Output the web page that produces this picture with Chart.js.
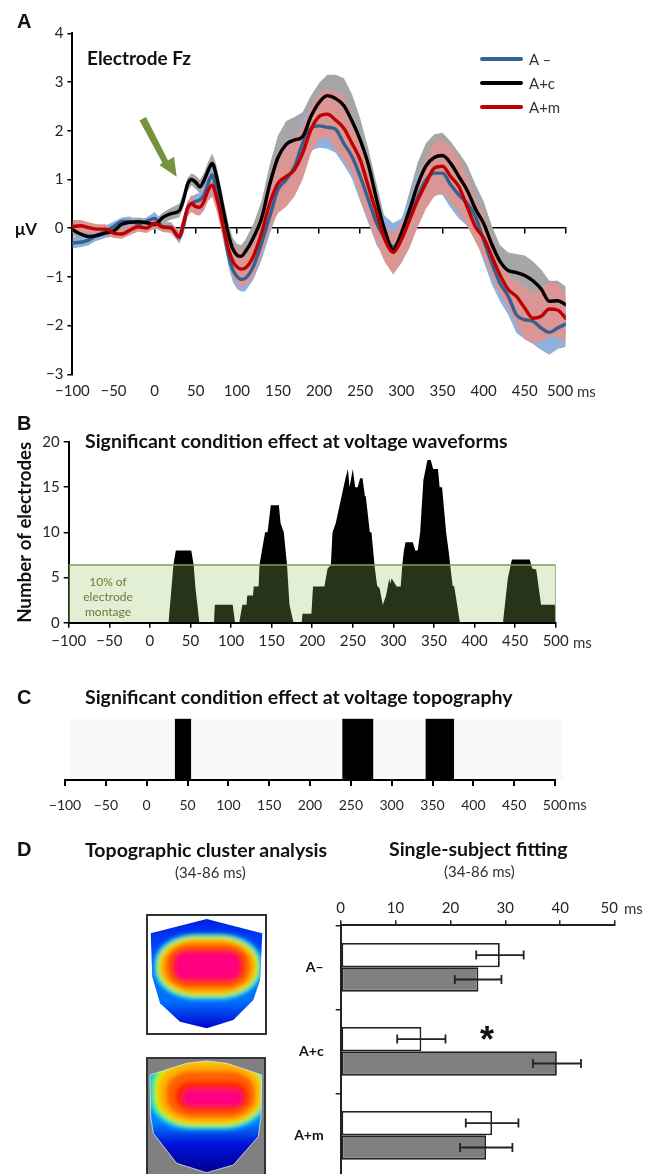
<!DOCTYPE html>
<html>
<head>
<meta charset="utf-8">
<title>Electrode Fz</title>
<script src="https://cdn.jsdelivr.net/npm/chart.js@4"></script>
<style>
  html, body { margin: 0; padding: 0; background: #fff; }
  body { position: relative; width: 656px; height: 1174px; overflow: hidden; font-family: Lato, sans-serif; color: #262626; }
  canvas { position: absolute; left: 0; }
  svg { position: absolute; left: 0; top: 0; }
  .t { position: absolute; white-space: nowrap; transform: translateY(-50%); line-height: 1; }
  .letter { font-family: "Liberation Sans", sans-serif; font-weight: 700; font-size: 20px; color: #111; }
  .title { font-weight: 700; font-size: 19.5px; color: #111; }
  .sub { font-size: 15px; color: #333; }
  .unit { font-size: 15px; color: #333; }
  .leg { font-size: 15px; color: #333; }
  .swatch { position: absolute; left: 480px; width: 43px; height: 4px; border-radius: 2px; }
  .montage { font-size: 12px; color: #6d7a35; width: 80px; text-align: center; }
</style>
</head>
<body>
<div style="position:absolute;left:69px;top:719px;width:494px;height:61px;background:#f9f9f9"></div>
<canvas id="chartA" width="656" height="400" style="top:0"></canvas>
<canvas id="chartB" width="656" height="235" style="top:425px"></canvas>
<canvas id="chartC" width="656" height="125" style="top:700px"></canvas>
<canvas id="chartD" width="656" height="290" style="top:890px"></canvas>
<svg id="overlay" width="656" height="1174" viewBox="0 0 656 1174"></svg>

<div class="t letter" style="left:17px;top:21px">A</div>
<div class="t title" style="left:87px;top:57px;font-size:19px">Electrode Fz</div>
<div class="swatch" style="top:57px;background:#376092"></div>
<div class="swatch" style="top:81px;background:#000"></div>
<div class="swatch" style="top:105px;background:#c00000"></div>
<div class="t leg" style="left:529px;top:59px">A –</div>
<div class="t leg" style="left:529px;top:83px">A+c</div>
<div class="t leg" style="left:529px;top:107px">A+m</div>
<div class="t" style="left:15px;top:228px;font-weight:700;font-size:17px;color:#111">μV</div>
<div class="t unit" style="left:577px;top:391px">ms</div>

<div class="t letter" style="left:17px;top:423px">B</div>
<div class="t title" style="left:85px;top:441px">Significant condition effect at voltage waveforms</div>
<div class="t montage" style="left:68px;top:582px">10% of</div>
<div class="t montage" style="left:68px;top:597px">electrode</div>
<div class="t montage" style="left:68px;top:612px">montage</div>
<div class="t unit" style="left:573px;top:642px">ms</div>

<div class="t letter" style="left:17px;top:697px">C</div>
<div class="t title" style="left:85px;top:697px">Significant condition effect at voltage topography</div>
<div class="t unit" style="left:568px;top:804px">ms</div>

<div class="t letter" style="left:17px;top:849px">D</div>
<div class="t title" style="left:85px;top:850px">Topographic cluster analysis</div>
<div class="t title" style="left:389px;top:849px">Single-subject fitting</div>
<div class="t sub" style="left:175px;top:872px">(34-86 ms)</div>
<div class="t sub" style="left:444px;top:871px">(34-86 ms)</div>
<div class="t unit" style="left:624px;top:908px">ms</div>
<div class="t" style="left:480px;top:1040px;font-family:'Liberation Sans',sans-serif;font-weight:700;font-size:36px;color:#111">*</div>

<script>
  "use strict";

  // panel A, waveforms at Fz (ms, then µV), upper/lower are the shaded bands
  const waveTimes = [
    -100, -90, -80, -70, -60, -50, -40, -30, -20, -10,
    0, 10, 20, 30, 35, 40, 45, 50, 55, 60,
    65, 70, 75, 80, 85, 90, 95, 100, 105, 110,
    120, 130, 140, 150, 160, 170, 180, 190, 200, 210,
    220, 230, 240, 250, 260, 270, 280, 290, 300, 310,
    320, 330, 340, 350, 360, 370, 380, 390, 400, 410,
    420, 430, 440, 450, 460, 470, 480, 490, 500
  ];
  const acMean = [
    -.03, -.12, -.17, -.15, -.10, -.06, .08, .12, .13, .11,
    .07, .22, .30, .36, .58, .90, 1.00, .94, .85, .98,
    1.18, 1.33, 1.08, .68, .25, -.15, -.42, -.55, -.58, -.49,
    -.20, .20, .90, 1.45, 1.72, 1.81, 1.88, 2.29, 2.58, 2.72,
    2.66, 2.52, 2.20, 1.81, 1.30, .58, -.05, -.44, -.10, .38,
    .90, 1.28, 1.45, 1.49, 1.33, 1.06, .78, .40, .10, -.33,
    -.68, -.87, -.91, -.97, -1.08, -1.25, -1.50, -1.49, -1.57
  ];
  const acUpper = [
    .08, 0, -.07, -.05, 0, .05, .17, .21, .22, .2,
    .17, .32, .42, .5, .72, 1.03, 1.12, 1.08, .99, 1.13,
    1.36, 1.53, 1.3, .9, .48, .08, -.2, -.32, -.35, -.25,
    .08, .55, 1.3, 1.9, 2.2, 2.28, 2.38, 2.72, 2.98, 3.15,
    3.15, 3.08, 2.75, 2.25, 1.62, .9, .2, -.2, .12, .75,
    1.35, 1.75, 1.93, 1.96, 1.78, 1.55, 1.3, .9, .55, .05,
    -.35, -.5, -.53, -.56, -.68, -.85, -1.08, -1.08, -1.2
  ];
  const acLower = [
    -.14, -.24, -.28, -.26, -.2, -.16, -.02, .02, .03, .01,
    -.04, .1, .18, .22, .44, .76, .88, .8, .71, .83,
    1.0, 1.13, .86, .46, .02, -.38, -.65, -.78, -.81, -.73,
    -.48, -.15, .5, 1.0, 1.25, 1.34, 1.38, 1.86, 2.18, 2.29,
    2.2, 1.96, 1.65, 1.37, .98, .26, -.3, -.68, -.32, .01,
    .45, .81, .97, 1.02, .88, .57, .26, -.1, -.35, -.71,
    -1.0, -1.24, -1.29, -1.38, -1.48, -1.65, -1.92, -1.9, -1.94
  ];
  const amMean = [
    .03, .05, .01, -.02, -.02, -.10, -.12, -.04, .03, 0,
    .10, .02, 0, -.18, .10, .40, .50, .44, .43, .55,
    .78, .88, .65, .31, -.10, -.44, -.68, -.79, -.84, -.82,
    -.58, -.10, .51, .92, 1.06, 1.20, 1.54, 2.02, 2.29, 2.34,
    2.22, 2.05, 1.74, 1.40, .85, .31, -.24, -.50, -.24, .17,
    .58, .92, 1.23, 1.27, 1.06, .85, .44, .03, -.20, -.58,
    -.96, -1.26, -1.40, -1.64, -1.85, -1.81, -1.66, -1.68, -1.85
  ];
  const amUpper = [
    .17, .17, .12, .08, .08, 0, -.02, .06, .13, .1,
    .2, .12, .1, -.05, .25, .55, .68, .62, .6, .75,
    1.0, 1.12, .92, .58, .15, -.18, -.35, -.42, -.45, -.42,
    -.17, .38, .99, 1.47, 1.68, 1.81, 2.08, 2.5, 2.77, 2.85,
    2.82, 2.7, 2.33, 1.85, 1.25, .58, .03, -.1, .1, .45,
    1.0, 1.45, 1.75, 1.81, 1.68, 1.45, 1.05, .6, .28, -.2,
    -.62, -.95, -1.1, -1.2, -1.33, -1.22, -1.1, -1.15, -1.37
  ];
  const amLower = [
    -.11, -.09, -.1, -.12, -.12, -.2, -.22, -.14, -.07, -.1,
    0, -.08, -.1, -.3, -.05, .25, .33, .27, .26, .36,
    .56, .65, .38, .03, -.38, -.72, -1.0, -1.13, -1.2, -1.2,
    -.99, -.58, -.03, .31, .44, .65, 1.0, 1.54, 1.81, 1.87,
    1.62, 1.4, 1.15, .6, .15, -.31, -.7, -.95, -.72, -.4,
    .03, .4, .65, .72, .52, .33, .05, -.28, -.6, -1.0,
    -1.35, -1.62, -1.98, -2.28, -2.35, -2.33, -2.22, -2.25, -2.32
  ];
  const aMean = [
    -.30, -.29, -.24, -.14, -.07, .03, .14, .14, .09, .14,
    .20, .03, .02, -.20, .03, .41, .51, .55, .58, .68,
    .92, 1.09, .79, .38, -.10, -.58, -.85, -.99, -1.05, -1.03,
    -.79, -.31, .24, .79, 1.0, 1.26, 1.74, 2.05, 2.10, 2.07,
    2.03, 1.74, 1.47, 1.06, .58, .10, -.20, -.38, -.17, .24,
    .65, .99, 1.13, 1.13, .89, .68, .51, .24, -.24, -.72,
    -1.13, -1.40, -1.78, -1.88, -1.91, -2.05, -2.14, -2.05, -1.97
  ];
  const aUpper = [
    -.18, -.18, -.12, -.03, .05, .13, .22, .24, .17, .22,
    .33, .14, .12, -.08, .16, .55, .65, .7, .72, .83,
    1.08, 1.25, .98, .58, .12, -.35, -.6, -.72, -.78, -.76,
    -.52, -.02, .62, 1.2, 1.45, 1.72, 2.2, 2.5, 2.55, 2.5,
    2.45, 2.15, 1.9, 1.5, 1.0, .5, .25, .1, .2, .62,
    1.1, 1.42, 1.55, 1.55, 1.3, 1.1, .9, .6, .18, -.3,
    -.7, -1.0, -1.35, -1.42, -1.45, -1.6, -1.7, -1.6, -1.52
  ];
  const aLower = [
    -.41, -.39, -.35, -.25, -.19, -.07, .06, .05, 0, .06,
    .08, -.08, -.08, -.32, -.1, .27, .37, .4, .44, .54,
    .76, .93, .6, .18, -.32, -.8, -1.1, -1.25, -1.3, -1.3,
    -1.06, -.66, -.12, .36, .55, .8, 1.28, 1.6, 1.65, 1.63,
    1.55, 1.3, 1.02, .55, .1, -.35, -.6, -.72, -.6, -.2,
    .25, .55, .7, .68, .42, .2, .05, -.2, -.68, -1.15,
    -1.5, -1.78, -2.15, -2.28, -2.38, -2.5, -2.6, -2.48, -2.44
  ];

  // panel B, number of electrodes over time
  const countTimes = [
    -100, 23, 29, 32, 51, 54, 56, 61, 79, 80, 102, 105, 110, 114, 119, 120, 127, 128, 134, 135,
    142, 145, 149, 159, 161, 165, 169, 172, 177, 187, 188, 199, 201, 215, 219, 223, 225, 229,
    241, 244, 246, 250, 253, 256, 259, 262, 265, 266, 271, 273, 277, 280, 283, 287, 291, 295,
    296, 298, 304, 309, 311, 313, 315, 324, 327, 330, 333, 337, 342, 346, 349, 355, 357, 360,
    365, 368, 370, 373, 375, 382, 435, 441, 446, 468, 471, 476, 482, 499, 500
  ];
  const countValues = [
    0, 0, 6.4, 8, 8, 6.4, 4, 0, 0, 2, 2, 0, 0, 2, 2, 3, 3, 4, 4, 6.4,
    10, 10, 13, 13, 11, 10, 6.4, 2, 0, 0, 1, 1, 4, 4, 6, 6.4, 10, 11,
    16, 17, 15, 17, 15, 15, 16, 16, 14, 14, 10, 10, 6.2, 4.1, 3.8, 2, 3, 4.9,
    4.3, 4.9, 4, 4, 6.4, 8, 8.9, 8.9, 8, 8, 10, 15.8, 18, 18, 17, 17, 15, 15,
    10, 8, 6.4, 4.1, 4, 0, 0, 4.9, 7, 7, 6, 5.9, 2, 2, 0
  ];
  const montageTimes = [-100, -100, 500, 500];
  const montageValues = [0, 6.4, 6.4, 0];

  // panel C, significant periods in ms
  const topoStart = [35, 240, 342];
  const topoEnd = [54, 277, 376];

  // panel D, single-subject fitting
  const fitConditions = ["A–", "A+c", "A+m"];
  const fitWhite = [29, 14.7, 27.6];
  const fitGray = [25.1, 39.4, 26.5];
  const whiteLow = [24.7, 10.3, 22.8];
  const whiteHigh = [33.35, 19.1, 32.4];
  const grayLow = [20.8, 35.05, 21.75];
  const grayHigh = [29.3, 43.8, 31.3];

  const INK = "#262626";
  const NUDGE = "\u00a0\u00a0\u00a0"; // last tick label sits a little left of its tick in the original
  Chart.defaults.font.family = "Lato, sans-serif";
  Chart.defaults.color = INK;
  Chart.defaults.animation = false;

  const tickFont = { size: 15 };

  function minus(v) {
    return String(v).replace("-", "−");
  }
  function fixedWidth(w) {
    return function (s) {
      s.width = w;
      s.paddingTop = 0;
      s.paddingBottom = 0;
    };
  }
  function fixedHeight(h) {
    return function (s) { s.height = h; };
  }
  function pairs(xs, ys) {
    return xs.map(function (x, i) { return { x: x, y: ys[i] }; });
  }
  function band(vals, color, fill) {
    return {
      data: pairs(waveTimes, vals),
      borderWidth: 0,
      pointRadius: 0,
      backgroundColor: color,
      fill: fill,
    };
  }
  function wave(vals, color) {
    return {
      data: pairs(waveTimes, vals),
      borderColor: color,
      borderWidth: 3.4,
      pointRadius: 0,
      cubicInterpolationMode: "monotone",
      borderCapStyle: "round",
      fill: false,
    };
  }

  // first dataset ends up on top
  new Chart(document.getElementById("chartA"), {
    type: "line",
    data: {
      datasets: [
        wave(amMean, "#c00000"),
        wave(acMean, "#000000"),
        wave(aMean, "#376092"),
        band(amUpper, "#d99694", "+1"),
        band(amLower, "#d99694", false),
        band(aUpper, "#8fb1dc", "+1"),
        band(aLower, "#8fb1dc", false),
        band(acUpper, "#a6a6a6", "+1"),
        band(acLower, "#a6a6a6", false),
      ],
    },
    options: {
      responsive: false,
      layout: { padding: { top: 33.3, right: 90.2 } },
      plugins: { legend: { display: false }, tooltip: { enabled: false } },
      scales: {
        x: {
          type: "linear",
          min: -100,
          max: 500,
          afterFit: fixedHeight(25.7),
          border: { display: false },
          grid: { display: false, drawTicks: false },
          ticks: {
            stepSize: 50,
            font: tickFont,
            padding: 8,
            maxRotation: 0,
            callback: function (v) { return v === 500 ? "500" + NUDGE : minus(v); },
          },
        },
        zero: {
          type: "linear",
          axis: "x",
          position: { y: 0 },
          min: -100,
          max: 500,
          border: { color: "#000", width: 1.5 },
          grid: { drawOnChartArea: false, color: "#000", tickLength: 5, lineWidth: 1.5 },
          ticks: { stepSize: 50, display: false },
        },
        y: {
          min: -3,
          max: 4,
          afterFit: fixedWidth(72.4),
          border: { color: "#000", width: 2 },
          grid: { drawOnChartArea: false, color: "#000", tickLength: 5, lineWidth: 1.5 },
          ticks: { stepSize: 1, font: tickFont, padding: 4, callback: minus },
        },
      },
    },
  });

  new Chart(document.getElementById("chartB"), {
    type: "line",
    data: {
      datasets: [
        {
          data: pairs(montageTimes, montageValues),
          borderColor: "#7f9f57",
          borderWidth: 1.5,
          pointRadius: 0,
          backgroundColor: "rgba(150,195,97,0.267)",
          fill: "origin",
        },
        {
          data: pairs(countTimes, countValues),
          borderWidth: 0,
          pointRadius: 0,
          backgroundColor: "#000",
          fill: "origin",
        },
      ],
    },
    options: {
      responsive: false,
      layout: { padding: { top: 17, right: 100.3 } },
      plugins: { legend: { display: false }, tooltip: { enabled: false } },
      scales: {
        x: {
          type: "linear",
          min: -100,
          max: 500,
          afterFit: fixedHeight(37.3),
          border: { color: "#000", width: 2, z: 2 },
          grid: { drawOnChartArea: false, color: "#000", tickLength: 5, lineWidth: 1.5 },
          ticks: { stepSize: 50, font: tickFont, padding: 4, maxRotation: 0, callback: minus },
        },
        y: {
          min: 0,
          max: 20,
          afterFit: fixedWidth(68.7),
          border: { color: "#000", width: 2 },
          grid: { drawOnChartArea: false, color: "#000", tickLength: 5, lineWidth: 1.5 },
          ticks: { stepSize: 5, font: tickFont, padding: 4 },
          title: {
            display: true,
            text: "Number of electrodes",
            color: "#111",
            font: { size: 18.7, weight: "bold" },
            padding: { top: 14, bottom: 0 },
          },
        },
      },
    },
  });

  new Chart(document.getElementById("chartC"), {
    type: "bar",
    data: {
      labels: [""],
      datasets: topoStart.map(function (s, i) {
        return { data: [[s, topoEnd[i]]], backgroundColor: "#000", barPercentage: 1, categoryPercentage: 1 };
      }),
    },
    options: {
      responsive: false,
      indexAxis: "y",
      layout: { padding: { top: 18.7, left: 65, right: 101 } },
      plugins: { legend: { display: false }, tooltip: { enabled: false } },
      scales: {
        x: {
          type: "linear",
          min: -100,
          max: 500,
          afterFit: fixedHeight(45),
          border: { color: "#000", width: 2 },
          grid: { drawOnChartArea: false, color: "#000", tickLength: 6, lineWidth: 2 },
          ticks: { stepSize: 50, font: { size: 14 }, padding: 11, maxRotation: 0, callback: minus },
        },
        y: { display: false, stacked: true },
      },
    },
  });

  const errorBars = {
    id: "errorBars",
    afterDatasetsDraw(chart) {
      const ctx = chart.ctx;
      const x = chart.scales.x;
      const lows = [whiteLow, grayLow];
      const highs = [whiteHigh, grayHigh];
      ctx.save();
      ctx.strokeStyle = "#222";
      ctx.lineWidth = 1.8;
      lows.forEach(function (low, d) {
        chart.getDatasetMeta(d).data.forEach(function (bar, i) {
          const a = x.getPixelForValue(low[i]);
          const b = x.getPixelForValue(highs[d][i]);
          ctx.beginPath();
          ctx.moveTo(a, bar.y);
          ctx.lineTo(b, bar.y);
          ctx.moveTo(a, bar.y - 4.5);
          ctx.lineTo(a, bar.y + 4.5);
          ctx.moveTo(b, bar.y - 4.5);
          ctx.lineTo(b, bar.y + 4.5);
          ctx.stroke();
        });
      });
      ctx.restore();
    },
  };

  new Chart(document.getElementById("chartD"), {
    type: "bar",
    data: {
      labels: fitConditions,
      datasets: [
        { data: fitWhite, backgroundColor: "#fff" },
        { data: fitGray, backgroundColor: "#7f7f7f" },
      ].map(function (d) {
        d.borderColor = "#222";
        d.borderWidth = 1.8;
        d.borderSkipped = false;
        d.barPercentage = 1;
        d.categoryPercentage = 0.58;
        return d;
      }),
    },
    plugins: [errorBars],
    options: {
      responsive: false,
      indexAxis: "y",
      layout: { padding: { right: 41, bottom: 2.7 } },
      plugins: { legend: { display: false }, tooltip: { enabled: false } },
      scales: {
        x: {
          type: "linear",
          position: "top",
          min: 0,
          max: 50,
          afterFit: fixedHeight(35.3),
          border: { color: "#222", width: 2 },
          grid: { drawOnChartArea: false, color: "#222", tickLength: 5, lineWidth: 1.5 },
          ticks: {
            stepSize: 10,
            font: tickFont,
            padding: 3,
            maxRotation: 0,
            callback: function (v) { return v === 50 ? "50" + NUDGE : v; },
          },
        },
        y: {
          afterFit: fixedWidth(340.7),
          border: { color: "#222", width: 2 },
          grid: { drawOnChartArea: false, color: "#222", tickLength: 5, lineWidth: 1.5 },
          ticks: { color: "#111", font: { size: 14, weight: "bold" }, padding: 12 },
        },
      },
    },
  });

  // arrow and the two scalp maps are picture decoration, not chart marks
  const RING = [
    [-0.16, "#0078ff"], [-0.1, "#00c8ff"], [-0.05, "#20f090"], [0, "#50f030"], [0.09, "#f0f000"],
    [0.17, "#ffb000"], [0.42, "#ff6000"], [0.72, "#ff2000"], [0.95, "#ff0080"],
  ];

  function topoMap(id, outline, outer, inner, stops) {
    const pts = outline.map(function (p) { return p.join(","); }).join(" ");
    let rects = "";
    RING.forEach(function (r) {
      const t = r[0];
      const x1 = outer[0] + (inner[0] - outer[0]) * t;
      const y1 = outer[1] + (inner[1] - outer[1]) * t;
      const x2 = outer[2] + (inner[2] - outer[2]) * t;
      const y2 = outer[3] + (inner[3] - outer[3]) * t;
      const k = Math.max(t, 0);
      rects += '<rect x="' + x1 + '" y="' + y1 + '" width="' + (x2 - x1) + '" height="' + (y2 - y1) +
        '" rx="' + (42 - 34 * k) + '" ry="' + (29 - 21 * k) + '" fill="' + r[1] + '"/>';
    });
    let grad = "";
    stops.forEach(function (s) {
      grad += '<stop offset="' + s[0] + '" stop-color="' + s[1] + '"/>';
    });
    return (
      '<defs><clipPath id="clip' + id + '"><polygon points="' + pts + '"/></clipPath>' +
      '<linearGradient id="grad' + id + '" x1="0" y1="0" x2="0" y2="1">' + grad + "</linearGradient>" +
      '<filter id="blur' + id + '"><feGaussianBlur stdDeviation="2"/></filter></defs>' +
      '<polygon points="' + pts + '" fill="url(#grad' + id + ')"/>' +
      '<g clip-path="url(#clip' + id + ')"><g filter="url(#blur' + id + ')">' + rects + "</g></g>"
    );
  }

  document.getElementById("overlay").innerHTML =
    '<polygon points="139.5,120.5 146,117 168,160.5 174,156.7 176.7,176.7 159.3,165 162.5,163" fill="#76923c"/>' +
    '<rect x="147" y="915" width="119" height="119" fill="#fff" stroke="#333" stroke-width="2"/>' +
    topoMap(
      "a",
      [[150.7, 933.3], [206.7, 919], [262.3, 933.3], [260, 980], [253.3, 1000], [233.3, 1020], [206.7, 1028.3], [180, 1021.7], [160, 1003.3], [152.3, 976.7]],
      [156.7, 936, 259.3, 997.3],
      [176.7, 953.3, 238.3, 978.3],
      [[0, "#0020e8"], [0.45, "#0060ff"], [0.75, "#0070ff"], [1, "#0000d0"]]
    ) +
    '<rect x="147" y="1058" width="118" height="130" fill="#808080" stroke="#333" stroke-width="2"/>' +
    topoMap(
      "b",
      [[150, 1075], [186.7, 1063.3], [206.7, 1061], [226.7, 1063.3], [261.7, 1075], [261, 1116.7], [258.3, 1136.7], [233.3, 1165], [206.7, 1172.7], [176.7, 1163.3], [153.3, 1133.3], [150.7, 1116.7]],
      [153, 1056, 264, 1127],
      [184, 1091, 242, 1105],
      [[0, "#00a0ff"], [0.55, "#0080ff"], [0.75, "#0010d8"], [1, "#000090"]]
    ) +
    '<polygon points="150,1075 186.7,1063.3 206.7,1061 226.7,1063.3 261.7,1075 261,1116.7 258.3,1136.7 233.3,1165 206.7,1172.7 176.7,1163.3 153.3,1133.3 150.7,1116.7" fill="none" stroke="#e4e4e4" stroke-width="0.8"/>';
</script>
</body>
</html>
